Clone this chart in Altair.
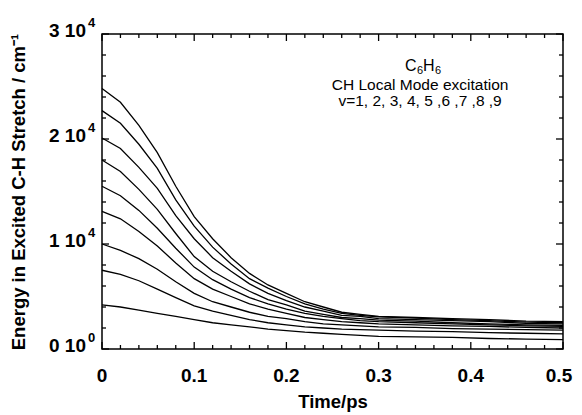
import altair as alt
import pandas as pd

FONT = "Liberation Sans"

times = [0.00, 0.02, 0.04, 0.06, 0.08, 0.10, 0.12, 0.14, 0.16, 0.18, 0.20,
         0.22, 0.24, 0.26, 0.28, 0.30, 0.34, 0.38, 0.42, 0.46, 0.50]

v9 = [24800, 23500, 21300, 18700, 15500, 12600, 10500, 8700, 7200, 6100, 5300, 4500, 4000, 3500, 3300, 3100, 3000, 2900, 2800, 2650, 2600]
v8 = [22700, 21500, 19500, 17200, 14200, 11700, 9700, 8100, 6700, 5800, 5000, 4300, 3800, 3400, 3200, 3050, 2950, 2800, 2700, 2550, 2500]
v7 = [20100, 19100, 17300, 15300, 12700, 10500, 8700, 7400, 6200, 5300, 4600, 4000, 3600, 3200, 3100, 2900, 2800, 2700, 2600, 2450, 2400]
v6 = [18000, 16900, 15200, 13300, 11000, 8800, 7400, 6400, 5500, 4700, 4200, 3600, 3300, 3000, 2900, 2750, 2650, 2500, 2400, 2300, 2250]
v5 = [15500, 14600, 13200, 11500, 9600, 7800, 6600, 5700, 4900, 4300, 3800, 3400, 3100, 2900, 2700, 2600, 2500, 2400, 2300, 2200, 2150]
v4 = [13100, 12400, 11200, 9800, 8200, 6700, 5700, 5000, 4300, 3800, 3400, 3000, 2800, 2600, 2500, 2400, 2300, 2200, 2150, 2050, 2000]
v3 = [10000, 9400, 8600, 7600, 6400, 5300, 4500, 4000, 3500, 3100, 2900, 2600, 2400, 2300, 2200, 2100, 2050, 1950, 1900, 1850, 1800]
v2 = [7500, 7100, 6500, 5700, 4900, 4100, 3600, 3200, 2800, 2500, 2300, 2100, 2000, 1900, 1850, 1800, 1700, 1650, 1550, 1500, 1450]
v1 = [4200, 4000, 3700, 3400, 3100, 2800, 2500, 2300, 2100, 1900, 1750, 1600, 1500, 1400, 1300, 1200, 1150, 1100, 1000, 950, 900]

levels = ["v=1", "v=2", "v=3", "v=4", "v=5", "v=6", "v=7", "v=8", "v=9"]
series = [v1, v2, v3, v4, v5, v6, v7, v8, v9]

x_major = [0.0, 0.1, 0.2, 0.3, 0.4, 0.5]
x_labels = ["0", "0.1", "0.2", "0.3", "0.4", "0.5"]
x_minor = [0.02, 0.04, 0.06, 0.08, 0.12, 0.14, 0.16, 0.18, 0.22, 0.24, 0.26, 0.28,
           0.32, 0.34, 0.36, 0.38, 0.42, 0.44, 0.46, 0.48]
y_major = [0, 10000, 20000, 30000]
y_label_base = ["0 10", "1 10", "2 10", "3 10"]
y_label_sup = ["0", "4", "4", "4"]
y_minor = [2000, 4000, 6000, 8000, 12000, 14000, 16000, 18000, 22000, 24000, 26000, 28000]

# annotation: formula pieces (C, 6, H, 6) and two text lines
formula_parts = ["C", "6", "H", "6"]
formula_dx = [-15, -3, 3, 15]
formula_dy = [0, 5, 0, 5]
formula_size = [16, 11, 16, 11]
ann_lines = ["CH Local Mode excitation", "v=1, 2, 3, 4, 5 ,6 ,7 ,8 ,9"]
ann_t = 0.345
formula_E = 27000
ann_E = [25150, 23650]

rows = []
for lab, vals in zip(levels, series):
    for t, e in zip(times, vals):
        rows.append({"t": t, "E": e, "v": lab})
df = pd.DataFrame(rows)

W, H = 461, 315
MAJ, MIN = 7, 4
xs = alt.Scale(domain=[0, 0.5], nice=False, zero=False)
ys = alt.Scale(domain=[0, 30000], nice=False)

lines = alt.Chart(df).mark_line(color="black", strokeWidth=1.3).encode(
    x=alt.X("t:Q", scale=xs, axis=alt.Axis(
        title="Time/ps", labels=False, ticks=False, domain=False, grid=False,
        titleFont=FONT, titleFontSize=18.5, titleFontWeight="bold",
        titleColor="black", titlePadding=43)),
    y=alt.Y("E:Q", scale=ys, axis=alt.Axis(
        title="Energy in Excited C-H Stretch / cm\u207b\u00b9", labels=False,
        ticks=False, domain=False, grid=False,
        titleFont=FONT, titleFontSize=18.5, titleFontWeight="bold",
        titleColor="black", titlePadding=74)),
    detail="v:N",
)

ymaj = pd.DataFrame({"E": y_major, "base": y_label_base, "sup": y_label_sup})
ymin = pd.DataFrame({"E": y_minor})
xmaj = pd.DataFrame({"t": x_major, "lab": x_labels})
xmin = pd.DataFrame({"t": x_minor})

def yticks(data, L):
    left = alt.Chart(data).mark_rule(color="black", strokeWidth=1.3).encode(
        y=alt.Y("E:Q", scale=ys), x=alt.value(0), x2=alt.value(L))
    right = alt.Chart(data).mark_rule(color="black", strokeWidth=1.3).encode(
        y=alt.Y("E:Q", scale=ys), x=alt.value(W), x2=alt.value(W - L))
    return left + right

def xticks(data, L):
    bot = alt.Chart(data).mark_rule(color="black", strokeWidth=1.3).encode(
        x=alt.X("t:Q", scale=xs), y=alt.value(H), y2=alt.value(H - L))
    top = alt.Chart(data).mark_rule(color="black", strokeWidth=1.3).encode(
        x=alt.X("t:Q", scale=xs), y=alt.value(0), y2=alt.value(L))
    return bot + top

ylab = alt.Chart(ymaj).mark_text(
    align="right", baseline="middle", dy=-3, font=FONT, fontSize=19,
    fontWeight="bold", color="black").encode(
    y=alt.Y("E:Q", scale=ys), x=alt.value(-16), text="base:N")
ysup = alt.Chart(ymaj).mark_text(
    align="left", baseline="middle", dy=-11, font=FONT, fontSize=13,
    fontWeight="bold", color="black").encode(
    y=alt.Y("E:Q", scale=ys), x=alt.value(-14), text="sup:N")
xlab_inner = alt.Chart(xmaj.iloc[:-1]).mark_text(
    align="center", baseline="middle", font=FONT, fontSize=19,
    fontWeight="bold", color="black").encode(
    x=alt.X("t:Q", scale=xs), y=alt.value(H + 27), text="lab:N")
xlab_last = alt.Chart(xmaj.iloc[-1:]).mark_text(
    align="center", baseline="middle", dx=-4, font=FONT, fontSize=19,
    fontWeight="bold", color="black").encode(
    x=alt.X("t:Q", scale=xs), y=alt.value(H + 27), text="lab:N")

formula = []
for part, dx, dy, fs in zip(formula_parts, formula_dx, formula_dy, formula_size):
    formula.append(
        alt.Chart(pd.DataFrame({"t": [ann_t], "E": [formula_E], "txt": [part]})).mark_text(
            align="left", baseline="middle", dx=dx, dy=dy, font=FONT, fontSize=fs,
            color="black").encode(
            x=alt.X("t:Q", scale=xs), y=alt.Y("E:Q", scale=ys), text="txt:N"))

ann = alt.Chart(pd.DataFrame({"t": [ann_t, ann_t], "E": ann_E, "txt": ann_lines})).mark_text(
    align="center", baseline="middle", font=FONT, fontSize=15.5, color="black").encode(
    x=alt.X("t:Q", scale=xs), y=alt.Y("E:Q", scale=ys), text="txt:N")

chart = alt.layer(
    lines, yticks(ymaj, MAJ), yticks(ymin, MIN), xticks(xmaj, MAJ), xticks(xmin, MIN),
    ylab, ysup, xlab_inner, xlab_last, ann, *formula
).properties(
    width=W, height=H,
    padding={"left": 94, "top": 26, "right": 11, "bottom": 64},
    autosize=alt.AutoSizeParams(type="none"),
).configure_view(stroke="black", strokeWidth=1.5)

chart.save("out.html", embed_options={"renderer": "svg", "actions": False})
